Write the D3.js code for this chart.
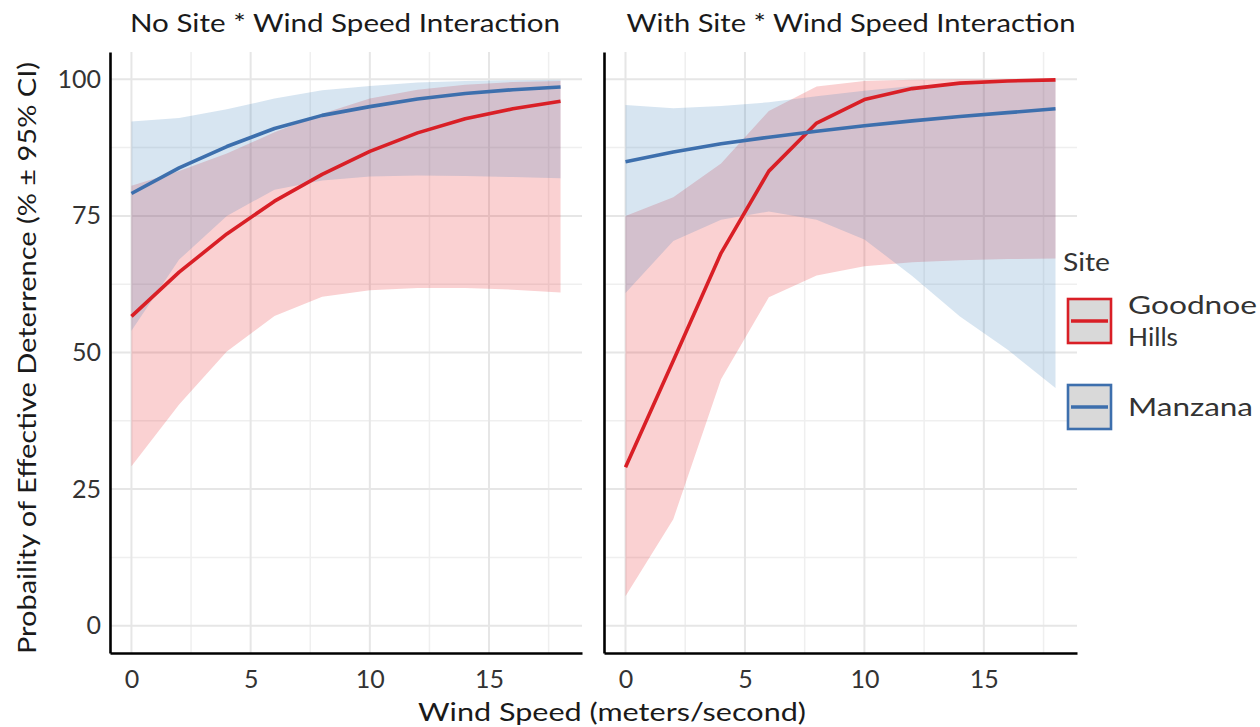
<!DOCTYPE html>
<html>
<head>
<meta charset="utf-8">
<script src="https://cdn.jsdelivr.net/npm/d3@7"></script>
<style>
  html, body { margin: 0; padding: 0; background: #ffffff; }
  svg { display: block; }
  text { font-family: Lato, "Open Sans", "DejaVu Sans", sans-serif; }
</style>
</head>
<body>
<svg id="chart" width="1260" height="727"></svg>
<script>
// Wind speed (m/s) at which the model predictions were evaluated
const windSpeed = [0, 2, 4, 6, 8, 10, 12, 14, 16, 18];

// Model without the site * wind speed interaction (% effective deterrence)
const goodnoeFitNo = [56.6, 64.7, 71.7, 77.7, 82.6, 86.8, 90.2, 92.8, 94.6, 96.0];
const goodnoeLoNo  = [29.2, 40.5, 50.2, 56.7, 60.2, 61.4, 61.8, 61.8, 61.5, 61.0];
const goodnoeHiNo  = [80.5, 83.2, 86.4, 90.3, 93.7, 96.5, 98.1, 99.0, 99.5, 99.7];
const manzanaFitNo = [79.1, 83.8, 87.7, 91.0, 93.4, 95.0, 96.4, 97.4, 98.1, 98.6];
const manzanaLoNo  = [54.0, 67.0, 75.0, 79.8, 81.5, 82.2, 82.4, 82.3, 82.1, 81.9];
const manzanaHiNo  = [92.3, 92.9, 94.5, 96.5, 98.0, 98.8, 99.4, 99.7, 99.85, 99.9];

// Model with the site * wind speed interaction
const goodnoeFitWith = [29.0, 48.5, 68.2, 83.2, 92.0, 96.3, 98.3, 99.3, 99.7, 99.9];
const goodnoeLoWith  = [5.4, 19.5, 45.1, 60.1, 64.1, 65.8, 66.5, 66.9, 67.1, 67.2];
const goodnoeHiWith  = [75.0, 78.4, 84.6, 94.2, 98.7, 99.7, 99.94, 99.99, 100, 100];
const manzanaFitWith = [84.9, 86.7, 88.2, 89.4, 90.5, 91.5, 92.4, 93.2, 93.9, 94.6];
const manzanaLoWith  = [60.9, 70.4, 74.3, 75.8, 74.3, 70.7, 64.0, 56.6, 50.5, 43.5];
const manzanaHiWith  = [95.3, 94.7, 95.1, 95.8, 96.9, 97.9, 98.8, 99.3, 99.57, 99.75];

const panelTitles = ["No Site * Wind Speed Interaction", "With Site * Wind Speed Interaction"];
const siteNames = ["Goodnoe Hills", "Manzana"];
const xTicks = [0, 5, 10, 15];
const xMinor = [2.5, 7.5, 12.5, 17.5];
const yTicks = [0, 25, 50, 75, 100];
const yMinor = [12.5, 37.5, 62.5, 87.5];

const siteColor = { "Goodnoe Hills": "#d91f26", "Manzana": "#3d6fad" };
const siteFill  = { "Goodnoe Hills": "#E41A1C", "Manzana": "#377EB8" };

function rows(fit, lo, hi) {
  return windSpeed.map((w, i) => ({ w, fit: fit[i], lo: lo[i], hi: hi[i] }));
}

const panels = [
  { title: panelTitles[0], x0: 110, x1: 582, titleX: 345, titleW: 430, tickY: true,
    series: [
      { site: siteNames[0], data: rows(goodnoeFitNo, goodnoeLoNo, goodnoeHiNo) },
      { site: siteNames[1], data: rows(manzanaFitNo, manzanaLoNo, manzanaHiNo) }
    ] },
  { title: panelTitles[1], x0: 604, x1: 1077, titleX: 851, titleW: 449, tickY: false,
    series: [
      { site: siteNames[0], data: rows(goodnoeFitWith, goodnoeLoWith, goodnoeHiWith) },
      { site: siteNames[1], data: rows(manzanaFitWith, manzanaLoWith, manzanaHiWith) }
    ] }
];

const svg = d3.select("#chart");
const yTop = 52, yBottom = 653;
const y = d3.scaleLinear().domain([-5, 105]).range([yBottom, yTop]);

panels.forEach(p => {
  const x = d3.scaleLinear().domain([-0.9, 18.9]).range([p.x0, p.x1]);
  const g = svg.append("g");

  // grid
  const grid = g.append("g");
  yMinor.forEach(v => grid.append("line")
    .attr("x1", p.x0).attr("x2", p.x1).attr("y1", y(v)).attr("y2", y(v))
    .attr("stroke", "#efefef").attr("stroke-width", 1.5));
  xMinor.forEach(v => grid.append("line")
    .attr("x1", x(v)).attr("x2", x(v)).attr("y1", yTop).attr("y2", yBottom)
    .attr("stroke", "#efefef").attr("stroke-width", 1.5));
  yTicks.forEach(v => grid.append("line")
    .attr("x1", p.x0).attr("x2", p.x1).attr("y1", y(v)).attr("y2", y(v))
    .attr("stroke", "#e6e6e6").attr("stroke-width", 2));
  xTicks.forEach(v => grid.append("line")
    .attr("x1", x(v)).attr("x2", x(v)).attr("y1", yTop).attr("y2", yBottom)
    .attr("stroke", "#e6e6e6").attr("stroke-width", 2));

  // confidence ribbons
  const area = d3.area().x(d => x(d.w)).y0(d => y(d.lo)).y1(d => y(d.hi));
  p.series.forEach(s => {
    g.append("path").datum(s.data)
      .attr("d", area)
      .attr("fill", siteFill[s.site]).attr("fill-opacity", 0.2);
  });

  // fitted lines
  const line = d3.line().x(d => x(d.w)).y(d => y(d.fit));
  p.series.forEach(s => {
    g.append("path").datum(s.data)
      .attr("d", line)
      .attr("fill", "none")
      .attr("stroke", siteColor[s.site]).attr("stroke-width", 3.6)
      .attr("stroke-linejoin", "round");
  });

  // axes
  const xAxis = g.append("g").attr("transform", `translate(0,${yBottom})`)
    .call(d3.axisBottom(x).tickValues(xTicks).tickSize(0).tickPadding(17));
  xAxis.select(".domain").attr("stroke", "#000").attr("stroke-width", 2.6);
  xAxis.selectAll("text").attr("font-size", 25).attr("fill", "#333");

  const yAxis = g.append("g").attr("transform", `translate(${p.x0},0)`)
    .call(d3.axisLeft(y).tickValues(yTicks).tickSize(0).tickPadding(9));
  yAxis.select(".domain").attr("stroke", "#000").attr("stroke-width", 2.6);
  yAxis.selectAll("text").attr("font-size", 25).attr("fill", "#333")
    .style("display", p.tickY ? null : "none");

  // panel title
  svg.append("text")
    .attr("x", p.titleX).attr("y", 32)
    .attr("text-anchor", "middle")
    .attr("font-size", 25).attr("fill", "#1a1a1a")
    .attr("textLength", p.titleW).attr("lengthAdjust", "spacingAndGlyphs")
    .text(p.title);
});

// axis titles
svg.append("text")
  .attr("transform", "translate(36,358) rotate(-90)")
  .attr("text-anchor", "middle")
  .attr("font-size", 25).attr("fill", "#1a1a1a")
  .attr("textLength", 592).attr("lengthAdjust", "spacingAndGlyphs")
  .text("Probaility of Effective Deterrence (% ± 95% CI)");

svg.append("text")
  .attr("x", 612).attr("y", 721)
  .attr("text-anchor", "middle")
  .attr("font-size", 25).attr("fill", "#1a1a1a")
  .attr("textLength", 388).attr("lengthAdjust", "spacingAndGlyphs")
  .text("Wind Speed (meters/second)");

// legend
const legend = svg.append("g");
legend.append("text")
  .attr("x", 1063).attr("y", 271)
  .attr("font-size", 25).attr("fill", "#333")
  .attr("textLength", 47).attr("lengthAdjust", "spacingAndGlyphs")
  .text("Site");

const legendItems = [
  { site: siteNames[0], top: 299, lines: ["Goodnoe", "Hills"], widths: [129, 50] },
  { site: siteNames[1], top: 385, lines: ["Manzana"], widths: [125] }
];
legendItems.forEach(item => {
  legend.append("rect")
    .attr("x", 1068).attr("y", item.top).attr("width", 43).attr("height", 44)
    .attr("fill", "#d9d9d9")
    .attr("stroke", siteColor[item.site]).attr("stroke-width", 2.6);
  legend.append("line")
    .attr("x1", 1071).attr("x2", 1108)
    .attr("y1", item.top + 22).attr("y2", item.top + 22)
    .attr("stroke", siteColor[item.site]).attr("stroke-width", 3.4);
  const n = item.lines.length;
  item.lines.forEach((t, i) => {
    legend.append("text")
      .attr("x", 1128)
      .attr("y", item.top + 22 + (i - (n - 1) / 2) * 32)
      .attr("dy", "0.36em")
      .attr("font-size", 25).attr("fill", "#333")
      .attr("textLength", item.widths[i]).attr("lengthAdjust", "spacingAndGlyphs")
      .text(t);
  });
});
</script>
</body>
</html>
